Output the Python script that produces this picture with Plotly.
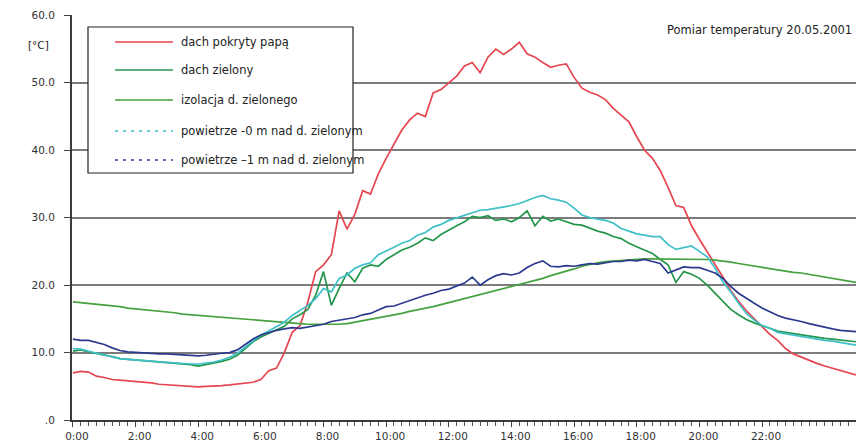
import numpy as np
import plotly.graph_objects as go

# Sampling times in hours (15-minute readings, 0:00 to 25:00)
czas_h = np.arange(101) * 0.25

# Temperatures [°C]
dach_papa = [
    7.0, 7.2, 7.1, 6.5, 6.3, 6.0, 5.9, 5.8, 5.8, 5.7, 5.5, 5.3,
    5.2, 5.1, 5.0, 4.9, 4.9, 5.0, 5.0, 5.1, 5.2, 5.3, 5.5, 5.6,
    6.0, 7.3, 7.7, 10.0, 13.0, 14.0, 17.5, 22.0, 23.0, 24.5, 31.0, 28.3,
    30.5, 34.0, 33.5, 36.5, 38.8, 41.0, 43.0, 44.5, 45.5, 45.0, 48.5, 49.0,
    50.0, 51.0, 52.5, 53.0, 51.5, 53.8, 55.0, 54.2, 55.0, 56.0, 54.3, 53.8,
    53.0, 52.3, 52.6, 52.8, 50.8, 49.2, 48.6, 48.2, 47.5, 46.2, 45.2, 44.2,
    42.0, 40.0, 38.8, 37.0, 34.5, 31.8, 31.5, 28.8, 26.8, 25.0, 23.2, 21.2,
    19.2, 17.6, 16.2, 15.0, 13.8, 12.7, 11.8, 10.6, 9.8, 9.3, 8.8, 8.4,
    8.0, 7.7, 7.3, 7.0, 6.7,
]
dach_zielony = [
    10.2, 10.4, 10.1, 9.9, 9.6, 9.4, 9.1, 9.0, 8.9, 8.8, 8.7, 8.6,
    8.6, 8.5, 8.4, 8.2, 8.0, 8.2, 8.5, 8.7, 9.0, 9.6, 10.6, 11.6,
    12.3, 12.8, 13.4, 13.9, 15.0, 15.6, 16.4, 18.5, 22.0, 17.0, 19.5, 21.8,
    20.5, 22.5, 23.0, 22.8, 23.8, 24.5, 25.2, 25.6, 26.2, 27.0, 26.6, 27.5,
    28.2, 28.8, 29.4, 30.2, 30.0, 30.3, 29.6, 29.8, 29.4, 30.0, 31.0, 28.8,
    30.2, 29.5, 29.8, 29.4, 29.0, 28.9, 28.4, 28.0, 27.7, 27.2, 26.9, 26.2,
    25.7, 25.2, 24.7, 23.8, 23.0, 20.4, 22.0, 21.6, 21.0, 20.0, 18.8, 17.6,
    16.4, 15.6, 14.9, 14.4, 14.0, 13.6, 13.2, 13.0, 12.8, 12.6, 12.4, 12.3,
    12.1, 12.0, 11.9, 11.7, 11.6,
]
izolacja = [
    17.5, 17.4, 17.3, 17.2, 17.0, 16.9, 16.8, 16.6, 16.5, 16.4, 16.2, 16.1,
    16.0, 15.9, 15.7, 15.6, 15.5, 15.4, 15.3, 15.2, 15.1, 15.0, 14.9, 14.8,
    14.7, 14.6, 14.5, 14.4, 14.3, 14.3, 14.2, 14.2, 14.1, 14.1, 14.2, 14.3,
    14.5, 14.7, 14.9, 15.1, 15.3, 15.6, 15.8, 16.1, 16.3, 16.6, 16.8, 17.1,
    17.4, 17.6, 17.9, 18.2, 18.5, 18.8, 19.1, 19.4, 19.7, 20.0, 20.3, 20.7,
    21.0, 21.4, 21.7, 22.0, 22.4, 22.8, 23.1, 23.3, 23.5, 23.6, 23.7, 23.8,
    23.9, 23.9, 23.9, 23.9, 23.9, 23.9, 23.9, 23.9, 23.8, 23.8, 23.7, 23.6,
    23.4, 23.2, 23.0, 22.8, 22.6, 22.5, 22.3, 22.1, 21.9, 21.8, 21.6, 21.4,
    21.2, 21.0, 20.8, 20.6, 20.4,
]
powietrze_0m = [
    10.6, 10.5, 10.2, 9.9, 9.6, 9.3, 9.1, 9.0, 8.9, 8.8, 8.7, 8.7,
    8.6, 8.5, 8.4, 8.3, 8.3, 8.4, 8.6, 8.9, 9.3, 9.9, 10.8, 11.8,
    12.6, 13.2, 13.8, 14.5, 15.5, 16.3, 17.0, 18.0, 19.5, 19.0, 21.0, 21.5,
    22.5, 23.0, 23.3, 24.5, 25.0, 25.6, 26.2, 26.6, 27.4, 27.8, 28.6, 29.0,
    29.6, 30.0, 30.4, 30.8, 31.1, 31.2, 31.4, 31.5, 31.8, 32.1, 32.6, 33.0,
    33.3, 32.8, 32.6, 32.3, 31.4, 30.4, 30.0, 29.8, 29.6, 29.2, 28.4, 28.0,
    27.6, 27.4, 27.2, 27.2, 26.0, 25.3, 25.5, 25.8, 25.0, 24.2, 22.5, 20.5,
    19.0, 17.3, 15.8, 14.8, 14.0, 13.6, 13.0, 12.8, 12.5, 12.3, 12.1, 11.9,
    11.8, 11.7, 11.5, 11.3, 11.1,
]
powietrze_1m = [
    12.0, 11.8, 11.8, 11.5, 11.2, 10.7, 10.3, 10.1, 10.0, 9.9, 9.8, 9.8,
    9.8, 9.7, 9.6, 9.5, 9.5, 9.6, 9.8, 9.9, 10.0, 10.4, 11.2, 12.0,
    12.6, 13.0, 13.3, 13.5, 13.7, 13.6, 13.8, 14.0, 14.2, 14.6, 14.8, 15.1,
    15.2, 15.6, 15.8, 16.3, 16.8, 16.9, 17.3, 17.8, 18.2, 18.5, 18.8, 19.2,
    19.4, 19.8, 20.3, 21.2, 20.0, 20.8, 21.4, 21.7, 21.5, 21.8, 22.6, 23.2,
    23.6, 22.8, 22.7, 22.9, 22.8, 23.0, 23.2, 23.1, 23.3, 23.5, 23.5, 23.7,
    23.6, 23.8, 23.5, 23.2, 21.8, 22.2, 22.7, 22.6, 22.6, 22.2, 21.8, 21.0,
    19.8, 18.8, 18.0, 17.3, 16.6, 16.0, 15.5, 15.1, 14.9, 14.6, 14.3, 14.0,
    13.8, 13.5, 13.3, 13.2, 13.1,
]

# Axis ticks
x_tick_vals = [0, 2, 4, 6, 8, 10, 12, 14, 16, 18, 20, 22]
x_tick_text = ["0:00", "2:00", "4:00", "6:00", "8:00", "10:00", "12:00",
               "14:00", "16:00", "18:00", "20:00", "22:00"]
y_tick_vals = [0, 10, 20, 30, 40, 50, 60]
y_tick_text = [".0", "10.0", "20.0", "30.0", "40.0", "50.0", "60.0"]

series = [
    ("dach pokryty papą", dach_papa, "#e5464f", "solid"),
    ("dach zielony", dach_zielony, "#24964c", "solid"),
    ("izolacja d. zielonego", izolacja, "#45a23f", "solid"),
    ("powietrze -0 m nad d. zielonym", powietrze_0m, "#3fc0c9", "3px,5px"),
    ("powietrze –1 m nad d. zielonym", powietrze_1m, "#2c3a8e", "3px,5px"),
]

FONT = "DejaVu Sans"
W, H = 856, 443
ML, MR, MT, MB = 72, 0, 15, 23
PW, PH = W - ML - MR, H - MT - MB


def px(x):
    return (x - ML) / PW


def py(y):
    return (H - MB - y) / PH


fig = go.Figure()
for name, vals, color, _ in series:
    fig.add_trace(go.Scatter(
        x=czas_h, y=vals, mode="lines", name=name,
        line=dict(color=color, width=1.7),
        showlegend=False,
    ))

shapes = []
annotations = []

# Legend box drawn by hand so long labels run past its right edge
shapes.append(dict(type="rect", xref="paper", yref="paper",
                   x0=px(88), x1=px(353), y0=py(173), y1=py(27),
                   line=dict(color="#222222", width=1.2),
                   fillcolor="white", layer="above"))
row_y = [42, 70, 100, 131, 160]
for (name, _, color, dash), ry in zip(series, row_y):
    shapes.append(dict(type="line", xref="paper", yref="paper",
                       x0=px(115), x1=px(173), y0=py(ry), y1=py(ry),
                       line=dict(color=color, width=1.5, dash=dash),
                       layer="above"))
    annotations.append(dict(text=name, xref="paper", yref="paper",
                            x=px(179), y=py(ry), xanchor="left",
                            yanchor="middle", showarrow=False,
                            font=dict(family=FONT, size=11.5, color="#222222")))

annotations.append(dict(text="[°C]", xref="paper", yref="paper",
                        x=px(26), y=py(45), xanchor="left", yanchor="middle",
                        showarrow=False,
                        font=dict(family=FONT, size=10.5, color="#222222")))
annotations.append(dict(text="Pomiar temperatury 20.05.2001", xref="paper",
                        yref="paper", x=px(854), y=py(30), xanchor="right",
                        yanchor="middle", showarrow=False,
                        font=dict(family=FONT, size=11.5, color="#222222")))

fig.update_layout(
    width=W, height=H,
    margin=dict(l=ML, r=MR, t=MT, b=MB, pad=0),
    paper_bgcolor="white", plot_bgcolor="white",
    shapes=shapes, annotations=annotations,
    font=dict(family=FONT, size=10.5, color="#333333"),
    xaxis=dict(
        range=[-0.03, 25.0], tickvals=x_tick_vals, ticktext=x_tick_text,
        showgrid=False, zeroline=False,
        showline=True, linecolor="#3a3a3a", linewidth=2,
        ticks="outside", ticklen=5, tickcolor="#444444", tickwidth=1,
        ticklabelshift=4,
        minor=dict(dtick=0.25, tick0=0, ticks="outside", ticklen=4,
                   tickcolor="#555555", tickwidth=1, showgrid=False),
        tickfont=dict(family=FONT, size=10.5, color="#333333"),
    ),
    yaxis=dict(
        range=[0, 60.05], tickvals=y_tick_vals, ticktext=y_tick_text,
        showgrid=True, gridcolor="#7c7c7c", gridwidth=2, zeroline=False,
        showline=True, linecolor="#3a3a3a", linewidth=2,
        ticks="outside", ticklen=6, tickcolor="#444444",
        ticklabelstandoff=7,
        tickfont=dict(family=FONT, size=10.5, color="#333333"),
    ),
)

fig.write_html("out.html")
